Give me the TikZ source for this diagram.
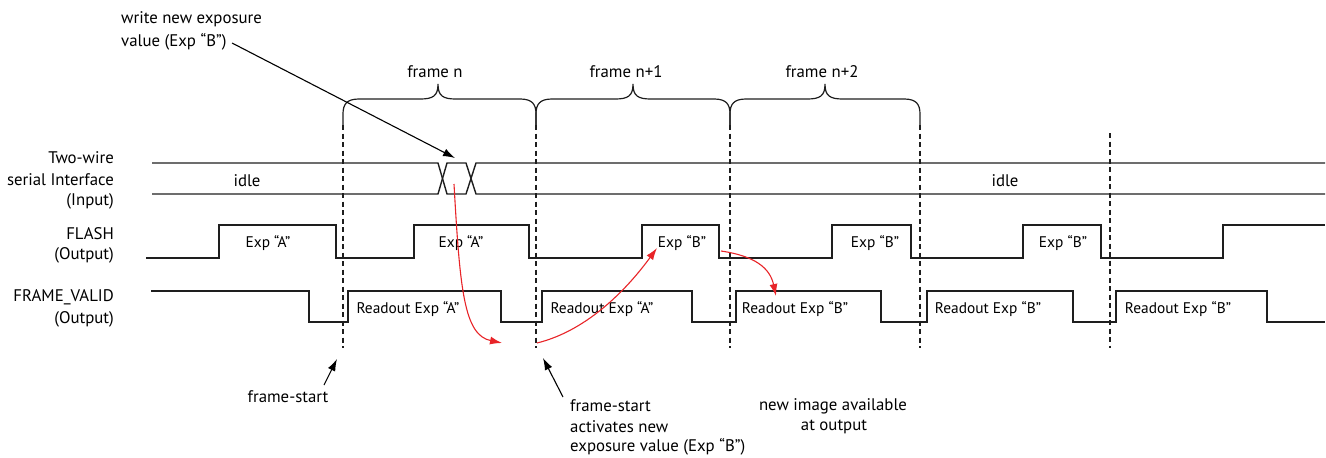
\documentclass[tikz,border=0pt]{standalone}
\usepackage{fontspec}
\setmainfont{PT Sans}
\usetikzlibrary{arrows.meta}
\definecolor{arrred}{RGB}{232,36,40}
\definecolor{sigcol}{RGB}{30,30,30}
\begin{document}
\begin{tikzpicture}[x=1pt,y=-1pt,
  sig/.style={line width=1.4pt, draw=sigcol, line join=miter},
  lbl/.style={font=\fontsize{16.8}{18}\selectfont, inner sep=0pt},
  intext/.style={font=\fontsize{15.4}{17}\selectfont, inner sep=0pt},
  dashln/.style={dash pattern=on 5pt off 3.5pt, line width=1.1pt, draw=sigcol},
  bracel/.style={line width=1.2pt, draw=sigcol},
  redarr/.style={draw=arrred, line width=1.1pt, -{Latex[length=12pt,width=8pt]}},
  blkarr/.style={draw=black, line width=1.1pt, -{Latex[length=12pt,width=8pt]}}]
\useasboundingbox (0,0) rectangle (1326,458);

% ---- row labels
\node[lbl, anchor=east] (tw1) at (114,158) {Two-wire};
\node[lbl, anchor=east] (tw2) at (114,180) {serial Interface};
\node[lbl, anchor=east] (tw3) at (114,201) {(Input)};
\node[lbl, anchor=east] (fl1) at (114,234) {FLASH};
\node[lbl, anchor=east] (fl2) at (114,255) {(Output)};
\node[lbl, anchor=east] (fv1) at (114,297) {FRAME\_VALID};
\node[lbl, anchor=east] (fv2) at (114,319) {(Output)};

% ---- dashed frame-start lines
\foreach \x/\t in {343/125,536/125,730/125,920/125,1110/133}
  \draw[dashln] (\x,\t) -- (\x,348);

% ---- braces
\foreach \a/\m/\b in {343/438/536, 536/633/730, 730/825/920}{
  \draw[bracel] (\a,125) -- (\a,114) .. controls (\a,104) and (\a+4,99) .. (\a+16,99)
    -- (\m-18,99) .. controls (\m-5,99) and (\m,96) .. (\m,84)
    .. controls (\m,96) and (\m+5,99) .. (\m+18,99)
    -- (\b-16,99) .. controls (\b-4,99) and (\b,104) .. (\b,114) -- (\b,125);
}
\node[lbl] (fn0) at (435,72) {frame n};
\node[lbl] (fn1) at (626,72) {frame n+1};
\node[lbl] (fn2) at (822,72) {frame n+2};

% ---- serial interface
\draw[sig] (152,163) -- (438,163) -- (447,194) -- (466,194) -- (476,163) -- (1325,163);
\draw[sig] (152,194) -- (438,194) -- (447,163) -- (466,163) -- (476,194) -- (1325,194);
\node[lbl] (idle1) at (247,181) {idle};
\node[lbl] (idle2) at (1005,181) {idle};

% ---- FLASH
\draw[sig] (146,258) -| (219,225) -| (336,258) -| (414,225) -| (529,258) -| (642,225)
  -| (719,258) -| (832,225) -| (911,258) -| (1023,225) -| (1101,258) -| (1223,225) -- (1325,225);
\node[intext] (ea1) at (268,243) {Exp “A”};
\node[intext] (ea2) at (461,243) {Exp “A”};
\node[intext] (eb1) at (682,243) {Exp “B”};
\node[intext] (eb2) at (875,243) {Exp “B”};
\node[intext] (eb3) at (1063,243) {Exp “B”};

% ---- FRAME_VALID
\draw[sig] (151,291) -| (309,322) -| (348,291) -| (501,322) -| (542,291) -| (692,322)
  -| (736,291) -| (881,322) -| (927,291) -| (1073,322) -| (1116,291) -| (1267,322) -- (1325,322);
\node[intext] (ra1) at (408,309) {Readout Exp “A”};
\node[intext] (ra2) at (602,309) {Readout Exp “A”};
\node[intext] (rb1) at (795,309) {Readout Exp “B”};
\node[intext] (rb2) at (988,309) {Readout Exp “B”};
\node[intext] (rb3) at (1178,309) {Readout Exp “B”};

% ---- annotations
\node[lbl, anchor=west] (w1) at (121,19) {write new exposure};
\node[lbl, anchor=west] (w2) at (121,42) {value (Exp “B”)};
\node[lbl] (fs1) at (288,397) {frame-start};
\node[lbl, anchor=west] (fs2a) at (570,406) {frame-start};
\node[lbl, anchor=west] (fs2b) at (570,427) {activates new};
\node[lbl, anchor=west] (fs2c) at (570,447) {exposure value (Exp “B”)};
\node[lbl] (ni1) at (833,406) {new image available};
\node[lbl] (ni2) at (834,427) {at output};

% ---- named arrow end points
\coordinate (wtail) at (232,43);
\coordinate (wtip) at (455,158);
\coordinate (f1tail) at (324,385);
\coordinate (f1tip) at (337,359);
\coordinate (f2tail) at (563,397);
\coordinate (f2tip) at (543,358);
\coordinate (r1s) at (454,184);
\coordinate (r1e) at (502,343);
\coordinate (r2s) at (537,343);
\coordinate (r2e) at (657,248);
\coordinate (r3s) at (721,251);
\coordinate (r3e) at (776,296);

\draw[blkarr] (wtail) -- (wtip);
\draw[blkarr] (f1tail) -- (f1tip);
\draw[blkarr] (f2tail) -- (f2tip);

\draw[redarr] (r1s) .. controls (460,290) and (464,335) .. (r1e);
\draw[redarr] (r2s) .. controls (590,330) and (630,285) .. (r2e);
\draw[redarr] (r3s) .. controls (755,256) and (770,268) .. (r3e);
\end{tikzpicture}
\end{document}
